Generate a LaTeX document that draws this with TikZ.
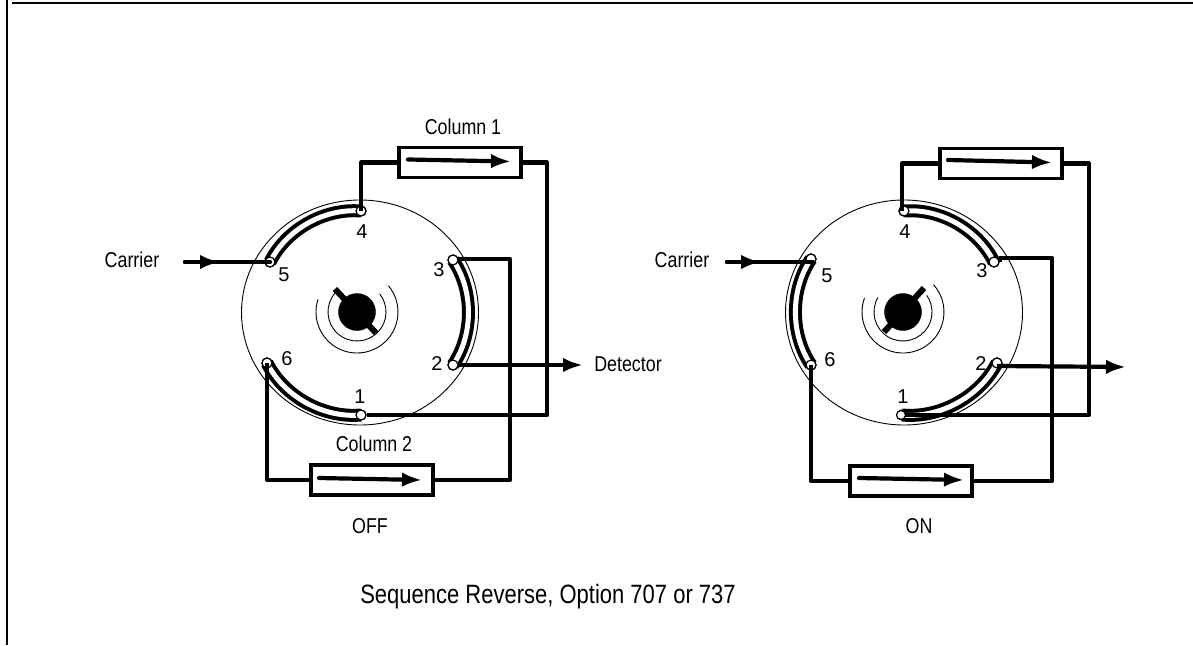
\documentclass[tikz,border=0pt]{standalone}
\usepackage{fontspec}
\setmainfont{Liberation Sans}
\newfontfamily\narrowf[FakeStretch=0.83]{Liberation Sans}
\usetikzlibrary{arrows.meta,shapes.geometric}
\tikzset{
  disc/.style={draw,ellipse,line width=.9pt,minimum width=237pt,minimum height=225pt,inner sep=0pt},
  port/.style={draw,circle,fill=white,line width=1.2pt,minimum size=10pt,inner sep=0pt},
  column/.style={draw,rectangle,line width=3.2pt,fill=white,minimum width=122pt,minimum height=30pt,inner sep=0pt},
  pipe/.style={line width=4.2pt,line join=round},
  flow/.style={line width=4.2pt,-{Latex[length=20pt,width=14.5pt]}},
  flowin/.style={line width=4.2pt,line cap=round,-{Latex[length=20pt,width=14.5pt]}},
  channel/.style={line width=13pt,black,bend angle=34,looseness=.9},
  channelin/.style={line width=5pt,white,bend angle=34,looseness=.9},
  thin arc/.style={line width=.9pt},
  keyline/.style={line width=6pt},
  num/.style={font=\fontsize{20}{20}\selectfont,inner sep=0pt},
  lab/.style={font=\narrowf\fontsize{21.5}{24}\selectfont,inner sep=0pt},
  caption/.style={font=\narrowf\fontsize{26.5}{30}\selectfont,inner sep=0pt}
}
\begin{document}
\begin{tikzpicture}[x=1pt,y=-1pt]
\useasboundingbox (0,0) rectangle (1193,645);
% frame
\coordinate (fa) at (12,3); \coordinate (fb) at (1193,3);
\coordinate (fc) at (7,0); \coordinate (fd) at (7,645);
\draw[line width=2.4pt] (fa) -- (fb);
\draw[line width=2.4pt] (fc) -- (fd);

% ===== LEFT (OFF) =====
\node[disc] (dL) at (360,312.5) {};
\node[port] (L1) at (361,415) {};
\node[port] (L2) at (453,365) {};
\node[port] (L3) at (453,260) {};
\node[port] (L4) at (361,211) {};
\node[port] (L5) at (270,262) {};
\node[port] (L6) at (267,363) {};
% channels
\draw[channel] (L4.center) to[bend right] (L5.center);
\draw[channelin] (L4.center) to[bend right] (L5.center);
\draw[channel] (L3.center) to[bend left] (L2.center);
\draw[channelin] (L3.center) to[bend left] (L2.center);
\draw[channel] (L6.center) to[bend right] (L1.center);
\draw[channelin] (L6.center) to[bend right] (L1.center);
\foreach \p in {L1,L2,L3,L4,L5,L6} \node[port] at (\p) {};
% hub
\coordinate (hL) at (357,312);
\draw[thin arc] (hL) ++(138:29pt) arc[start angle=138,end angle=399,radius=29pt];
\draw[thin arc] (hL) ++(162:41pt) arc[start angle=162,end angle=400,radius=41pt];
\coordinate (kLa) at (335,289); \coordinate (kLb) at (376,333);
\draw[keyline] (kLa) -- (kLb);
\node[draw,circle,fill=black,minimum size=37pt,inner sep=0pt] (cL) at (hL) {};
% columns
\node[column] (c1L) at (460,162.5) {};
\node[column] (c2L) at (372,480) {};
\coordinate (a1La) at (408,159.5); \coordinate (a1Lb) at (511,161.5);
\coordinate (a2La) at (319,478); \coordinate (a2Lb) at (422,480);
\draw[flowin] (a1La) -- (a1Lb);
\draw[flowin] (a2La) -- (a2Lb);
% pipes
\draw[pipe] (L4.center) |- (c1L.west);
\draw[pipe] (c1L.east) -| (547,415) -- (L1.east);
\draw[pipe] (L3.east) -- ++(0,-1) -| (510,480) -- (c2L.east);
\draw[pipe] (L6.center) |- (c2L.west);
% carrier + detector
\coordinate (cinL) at (185,262); \coordinate (cmL) at (220,262);
\draw[line width=4.2pt,line cap=round] (cinL) -- (L5.center);
\draw[flowin] (cinL) -- (cmL);
\coordinate (detL) at (583,365);
\draw[flow] (L2.east) -- (detL);
% labels
\node[num] (n1L) at (360,397) {1};
\node[num] (n2L) at (437,363.5) {2};
\node[num] (n3L) at (439,270) {3};
\node[num] (n4L) at (362,232) {4};
\node[num] (n5L) at (284,275) {5};
\node[num] (n6L) at (287,359) {6};
\node[lab] (t1) at (463,127) {Column 1};
\node[lab] (t2) at (374,444) {Column 2};
\node[lab] (t3) at (370,526) {OFF};
\node[lab] (t4) at (132,260) {Carrier};
\node[lab] (t5) at (628,364) {Detector};

% ===== RIGHT (ON) =====
\node[disc] (dR) at (904,312.5) {};
\node[port] (R1) at (902,415) {};
\node[port] (R2) at (997,363) {};
\node[port] (R3) at (994,262) {};
\node[port] (R4) at (904,211) {};
\node[port] (R5) at (811,259) {};
\node[port] (R6) at (811,365) {};
\draw[channel] (R4.center) to[bend left] (R3.center);
\draw[channelin] (R4.center) to[bend left] (R3.center);
\draw[channel] (R5.center) to[bend right] (R6.center);
\draw[channelin] (R5.center) to[bend right] (R6.center);
\draw[channel] (R1.center) to[bend right] (R2.center);
\draw[channelin] (R1.center) to[bend right] (R2.center);
\foreach \p in {R2,R3,R4,R5,R6} \node[port] at (\p) {};
\coordinate (hR) at (903,312);
\draw[thin arc] (hR) ++(150:29pt) arc[start angle=150,end angle=395,radius=29pt];
\draw[thin arc] (hR) ++(160:41pt) arc[start angle=160,end angle=402,radius=41pt];
\coordinate (kRa) at (924,288); \coordinate (kRb) at (884,332);
\draw[keyline] (kRa) -- (kRb);
\node[draw,circle,fill=black,minimum size=37pt,inner sep=0pt] (cR) at (hR) {};
\node[column] (c1R) at (1001,163.5) {};
\node[column] (c2R) at (911,481) {};
\coordinate (a1Ra) at (948,160); \coordinate (a1Rb) at (1052,162.5);
\coordinate (a2Ra) at (859,478); \coordinate (a2Rb) at (964,480);
\draw[flowin] (a1Ra) -- (a1Rb);
\draw[flowin] (a2Ra) -- (a2Rb);
\coordinate (r4t) at (902,211);
\draw[pipe] (r4t) |- (c1R.west);
\coordinate (r1j) at (905,415);
\draw[pipe] (c1R.east) -| (1089,415) -- (r1j);
\draw[pipe] (R3.east) -- ++(0,-4) -| (1052,481) -- (c2R.east);
\draw[pipe] (R6.center) |- (c2R.west);
\node[draw,circle,fill=white,line width=1.2pt,minimum size=9pt,inner sep=0pt] (wR1) at (901,415) {};
\coordinate (cinR) at (727,262); \coordinate (cmR) at (761,262);
\coordinate (r5e) at (813,262);
\draw[line width=4.2pt,line cap=round] (cinR) -- (r5e);
\draw[flowin] (cinR) -- (cmR);
\coordinate (detR) at (1126,367);
\coordinate (r2s) at (997,366);
\draw[flow] (r2s) -- (detR);
\node[num] (n1R) at (903,397) {1};
\node[num] (n2R) at (981,364) {2};
\node[num] (n3R) at (982,271) {3};
\node[num] (n4R) at (905,232) {4};
\node[num] (n5R) at (827,276) {5};
\node[num] (n6R) at (830,360) {6};
\node[lab] (t6) at (919,526) {ON};
\node[lab] (t7) at (682,260) {Carrier};
\node[caption] (t8) at (548,597) {Sequence Reverse, Option 707 or 737};
\end{tikzpicture}
\end{document}
